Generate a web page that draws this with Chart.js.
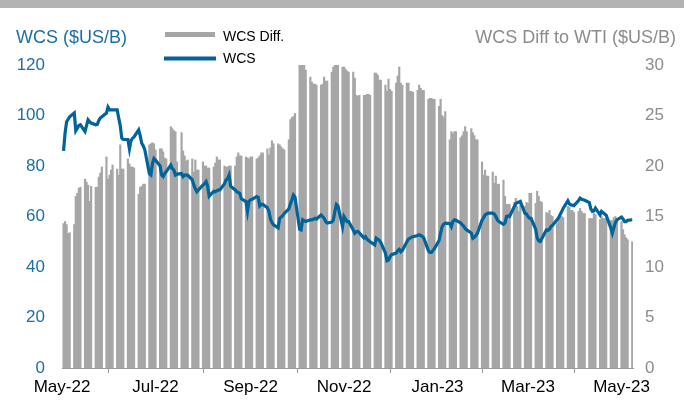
<!DOCTYPE html>
<html>
<head>
<meta charset="utf-8">
<script src="https://cdn.jsdelivr.net/npm/chart.js@4.4.1/dist/chart.umd.min.js"></script>
<style>
  body { margin: 0; background: #fff; }
  #wrap { width: 684px; height: 401px; }
</style>
</head>
<body>
<div id="wrap"><canvas id="chart" width="684" height="401"></canvas></div>
<script>
// business days from START_DAY to END_DAY (weekends skipped)
const START_DAY = "2022-05-02";
const END_DAY = "2023-05-08";

// WCS Diff. to WTI ($US/B), one row per week (Mon..Fri)
const wcsDiff = [
  14.3, 14.5, 14.2, 13.3, 13.4,
  14.2, 17.0, 17.3, 17.8, 17.9,
  18.7, 18.4, 18.1, 16.5, 18.0,
  17.9, 17.9, 18.9, 19.3, 19.9,
  20.9, 18.7, 19.1, 19.6, 20.1,
  19.7, 19.1, 22.1, 19.7, 19.7,
  20.7, 20.2, 19.9, 19.9, 19.8,
  17.2, 17.9, 18.0, 18.2, 18.2,
  22.1, 22.2, 22.3, 22.2, 21.6,
  21.7, 21.7, 21.4, 20.8, 20.7,
  23.9, 23.7, 23.5, 23.4, 20.4,
  23.3, 21.5, 21.0, 20.5, 20.6,
  20.7, 19.4, 20.6, 19.6, 19.6,
  20.4, 20.0, 20.0, 19.8, 19.8,
  19.9, 20.3, 20.9, 20.6, 20.6,
  20.0, 19.9, 19.9, 20.0, 20.0,
  20.0, 20.9, 21.3, 21.0, 21.0,
  20.9, 20.8, 20.7, 20.9, 20.9,
  20.7, 20.8, 21.0, 21.3, 21.3,
  21.7, 21.1, 21.8, 22.5, 22.2,
  22.2, 22.1, 21.9, 21.7, 21.6,
  22.6, 24.6, 24.8, 24.9, 25.2,
  30.2, 30.1, 30.0, 30.0, 29.5,
  28.8, 28.3, 28.1, 28.1, 28.0,
  28.0, 28.1, 28.8, 28.4, 28.4,
  29.3, 29.8, 30.2, 30.2, 30.0,
  29.8, 29.8, 29.6, 29.4, 29.3,
  29.3, 28.7, 27.0, 26.9, 27.0,
  27.0, 27.0, 27.1, 27.1, 27.0,
  29.2, 29.2, 29.0, 28.5, 28.5,
  28.0, 27.4, 28.6, 27.6, 27.4,
  28.2, 28.9, 29.8, 28.2, 28.0,
  28.2, 28.2, 27.4, 27.4, 27.3,
  27.5, 28.0, 27.7, 27.5, 27.5,
  26.6, 26.7, 26.7, 26.6, 26.6,
  25.9, 26.6, 25.0, 24.8, 25.4,
  22.6, 23.4, 23.2, 23.4, 23.4,
  22.8, 23.0, 23.4, 23.9, 23.4,
  23.7, 23.3, 23.0, 22.6, 22.6,
  20.4, 19.1, 19.6, 19.0, 19.0,
  19.4, 18.3, 19.0, 18.2, 18.2,
  18.6, 17.0, 16.2, 16.2, 16.2,
  16.4, 16.8, 16.0, 15.5, 16.5,
  16.0, 16.4, 16.3, 17.3, 17.3,
  16.3, 17.5, 17.0, 16.5, 16.4,
  15.4, 15.3, 15.6, 15.1, 15.0,
  14.3, 14.7, 15.0, 15.0, 14.9,
  16.0, 15.9, 15.6, 15.6, 15.4,
  15.5, 15.8, 15.5, 15.3, 15.3,
  14.8, 14.8, 14.8, 15.3, 15.2,
  14.7, 15.0, 14.8, 14.8, 14.8,
  14.6, 14.6, 14.9, 15.0, 14.8,
  14.5, 13.7, 13.2, 12.9, 12.7,
  12.5
];

// WCS ($US/B)
const wcs = [
  86.0, 93.0, 97.5, 98.5, 99.5,
  101.0, 94.0, 95.0, 96.0, 96.3,
  93.7, 96.0, 98.3, 97.5, 97.0,
  96.3, 96.5, 98.0, 99.0, 99.5,
  101.0, 103.3, 102.3, 102.2, 102.2,
  102.2, 99.0, 96.0, 91.0, 90.5,
  90.5, 86.8, 90.0, 91.0, 91.5,
  94.3, 92.0, 89.0, 88.0, 86.5,
  77.0, 76.5, 81.0, 83.0, 82.4,
  80.0, 76.4, 75.8, 77.0, 77.8,
  80.4, 79.0, 78.4, 76.4, 76.8,
  77.0, 75.8, 76.4, 76.4, 76.4,
  74.5, 72.5, 71.0, 69.8, 70.5,
  72.5, 73.0, 73.8, 72.0, 68.0,
  70.0, 69.8, 70.2, 70.5, 70.5,
  73.0, 74.5, 75.0, 76.4, 72.0,
  70.5, 69.8, 69.5, 69.2, 67.0,
  65.9, 62.0, 66.0, 66.6, 66.8,
  67.9, 67.6, 64.2, 64.8, 64.8,
  63.5, 62.0, 59.0, 57.5, 56.7,
  55.5, 59.3, 59.8, 60.3, 61.2,
  63.0, 65.0, 66.6, 68.5, 67.7,
  55.0, 54.7, 58.7, 58.3, 58.0,
  58.7, 58.7, 58.9, 59.3, 59.0,
  60.6, 60.0, 59.3, 58.0, 57.4,
  57.8, 58.5, 62.0, 64.8, 64.2,
  56.0, 60.0, 59.0, 58.0, 58.0,
  54.7, 53.4, 54.0, 54.1, 53.5,
  51.5, 52.0, 51.0, 50.5, 50.0,
  48.8, 51.4, 51.0, 50.5, 49.7,
  45.5, 42.5, 42.8, 44.0, 44.9,
  45.5, 46.5, 47.0, 46.0, 46.5,
  50.0, 51.0, 51.4, 51.8, 52.0,
  52.5, 52.8, 52.5, 52.1, 51.5,
  46.5, 45.8, 45.8, 46.5, 47.3,
  50.5, 53.5, 56.0, 57.0, 57.4,
  57.2, 56.0, 58.0, 58.7, 58.5,
  57.5, 56.8, 56.2, 55.3, 54.7,
  53.5, 51.4, 51.8, 52.5, 53.4,
  58.5, 59.5, 60.6, 61.0, 61.3,
  61.3, 61.0, 60.0, 58.7, 58.0,
  56.9, 57.5, 60.0, 60.2, 60.0,
  63.9, 65.0, 65.5, 65.7, 66.0,
  61.3, 61.0, 60.0, 59.3, 59.3,
  55.0, 51.5, 50.3, 50.1, 51.2,
  54.7, 54.5, 55.0, 56.0, 56.5,
  58.7, 59.5, 60.8, 62.0, 63.3,
  66.2, 65.0, 64.6, 64.5, 64.3,
  66.3, 67.3, 66.8, 66.6, 66.4,
  65.5, 63.0, 62.0, 62.2, 63.3,
  60.6, 62.0, 61.5, 61.0, 60.5,
  55.5, 53.4, 55.5, 57.6, 58.7,
  59.8, 59.0, 58.0, 58.0, 58.5,
  58.7
];

const xTickDates = ["2022-05-01", "2022-07-01", "2022-09-01", "2022-11-01", "2023-01-01", "2023-03-01", "2023-05-01"];
const xTickLabels = ["May-22", "Jul-22", "Sep-22", "Nov-22", "Jan-23", "Mar-23", "May-23"];

const BAR_COLOR = "#a6a6a6";
const LINE_COLOR = "#00649c";
const BLUE_TEXT = "#1c6fa6";
const GREY_TEXT = "#8c8c8c";
const FONT = '"Liberation Sans", Arial, sans-serif';

const ORIGIN = Date.UTC(2022, 4, 1);
function dayNum(s) {
  const p = s.split("-").map(Number);
  return Math.round((Date.UTC(p[0], p[1] - 1, p[2]) - ORIGIN) / 86400000);
}

// list of business days (x categories)
const days = [];
for (let d = dayNum(START_DAY); d <= dayNum(END_DAY); d++) {
  const wd = new Date(ORIGIN + d * 86400000).getUTCDay();
  if (wd !== 0 && wd !== 6) days.push(d);
}

const tickDays = xTickDates.map(dayNum);

const decor = {
  id: "decor",
  beforeDraw(chart) {
    const c = chart.ctx;
    c.save();
    c.fillStyle = "#b3b3b3";
    c.fillRect(0, 0, chart.width, 8);
    c.restore();
  },
  afterDraw(chart) {
    const c = chart.ctx;
    const ds = chart.data.datasets;
    c.save();
    c.textBaseline = "middle";
    c.font = "18px " + FONT;
    c.fillStyle = BLUE_TEXT;
    c.textAlign = "left";
    c.fillText("WCS ($US/B)", 16, 38);
    c.fillStyle = GREY_TEXT;
    c.textAlign = "right";
    c.fillText("WCS Diff to WTI ($US/B)", 676, 38);

    // legend
    c.fillStyle = BAR_COLOR;
    c.fillRect(165, 32, 50, 5);
    c.strokeStyle = LINE_COLOR;
    c.lineWidth = 4;
    c.beginPath();
    c.moveTo(164, 58.5);
    c.lineTo(216, 58.5);
    c.stroke();
    c.fillStyle = "#000";
    c.textAlign = "left";
    c.font = "14px " + FONT;
    c.fillText(ds[1].label, 223, 37);
    c.fillText(ds[0].label, 223, 59);
    c.restore();
  }
};

new Chart(document.getElementById("chart"), {
  type: "bar",
  data: {
    datasets: [
      {
        type: "line",
        label: "WCS",
        data: days.map((d, i) => ({ x: d, y: wcs[i] })),
        yAxisID: "yL",
        borderColor: LINE_COLOR,
        borderWidth: 3.2,
        pointRadius: 0,
        tension: 0,
        order: 0
      },
      {
        type: "bar",
        label: "WCS Diff.",
        data: days.map((d, i) => ({ x: d, y: wcsDiff[i] })),
        yAxisID: "yR",
        backgroundColor: BAR_COLOR,
        borderWidth: 0,
        barPercentage: 1,
        categoryPercentage: 1,
        order: 1
      }
    ]
  },
  options: {
    responsive: false,
    animation: false,
    devicePixelRatio: 1,
    layout: { padding: { top: 65, left: 0, right: 0, bottom: 0 } },
    plugins: { legend: { display: false }, tooltip: { enabled: false } },
    scales: {
      x: {
        type: "linear",
        offset: false,
        min: 0,
        max: 372.5,
        afterBuildTicks(scale) {
          scale.ticks = tickDays.map(v => ({ value: v }));
        },
        afterFit(scale) { scale.height = 33; },
        grid: {
          drawOnChartArea: false,
          drawTicks: true,
          tickLength: 5,
          color: "#9a9a9a"
        },
        border: { display: true, color: "#9a9a9a", width: 1 },
        ticks: {
          autoSkip: false,
          maxRotation: 0,
          padding: 4,
          color: "#000",
          font: { family: FONT, size: 17 },
          callback(v) {
            const i = tickDays.indexOf(v);
            return i >= 0 ? xTickLabels[i] : "";
          }
        }
      },
      yL: {
        position: "left",
        min: 0,
        max: 120,
        afterFit(scale) { scale.width = 62; },
        grid: { display: false, drawTicks: false },
        border: { display: false },
        ticks: {
          stepSize: 20,
          padding: 17,
          color: BLUE_TEXT,
          font: { family: FONT, size: 17 }
        }
      },
      yR: {
        position: "right",
        min: 0,
        max: 30,
        afterFit(scale) { scale.width = 51; },
        grid: { display: false, drawTicks: false },
        border: { display: false },
        ticks: {
          stepSize: 5,
          padding: 12,
          color: GREY_TEXT,
          font: { family: FONT, size: 17 }
        }
      }
    }
  },
  plugins: [decor]
});
</script>
</body>
</html>
